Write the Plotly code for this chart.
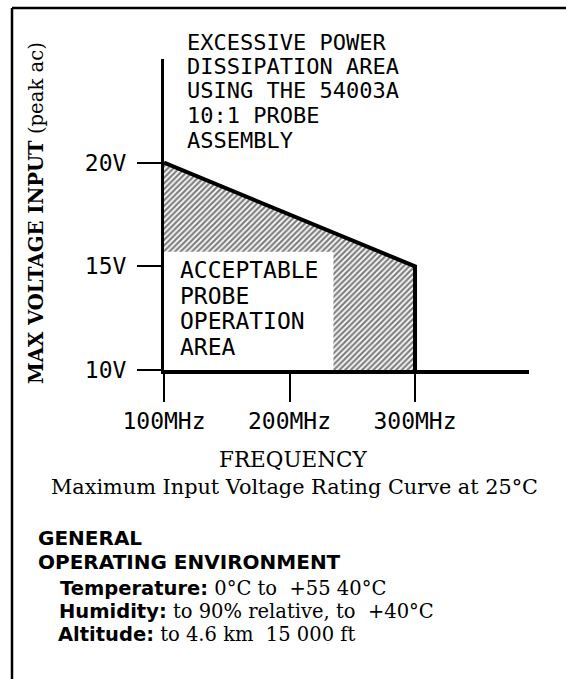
import plotly.graph_objects as go

# Maximum input voltage rating curve (frequency in MHz, voltage in V peak ac)
freq_mhz = [100, 300, 300]
max_volt = [20, 15, 10]

# Outline of the hatched excessive power dissipation area
hatch_freq = [100, 300, 300, 235, 235, 100]
hatch_volt = [20, 15, 10, 10, 15.7, 15.7]

x_ticks = [100, 200, 300]
x_tick_text = ["100MHz", "200MHz", "300MHz"]
y_ticks = [10, 15, 20]
y_tick_text = ["10V", "15V", "20V"]

upper_label = ["EXCESSIVE POWER", "DISSIPATION AREA", "USING THE 54003A",
               "10:1 PROBE", "ASSEMBLY"]
lower_label = ["ACCEPTABLE", "PROBE", "OPERATION", "AREA"]

env_heading = ["GENERAL", "OPERATING ENVIRONMENT"]
env_items = [
    ("Temperature:", "0°C to  +55 40°C"),
    ("Humidity:", "to 90% relative, to  +40°C"),
    ("Altitude:", "to 4.6 km  15 000 ft"),
]

# Page geometry (pixels) and plot-area edges
W, H = 566, 679
L, R, T, B = 164, 529, 59, 370

MONO = "DejaVu Sans Mono"
SERIF = "DejaVu Serif"
SANS = "DejaVu Sans"


def px(x):
    return (x - L) / (R - L)


def py(y):
    return (B - y) / (B - T)


fig = go.Figure()

fig.add_trace(go.Scatter(
    x=hatch_freq, y=hatch_volt, mode="lines", fill="toself",
    line=dict(width=0, color="rgba(0,0,0,0)"),
    fillcolor="white",
    fillpattern=dict(shape="/", fgcolor="black", bgcolor="white",
                     size=4, solidity=0.55),
    hoverinfo="skip", showlegend=False,
))

fig.add_trace(go.Scatter(
    x=freq_mhz, y=max_volt, mode="lines",
    line=dict(color="black", width=4),
    hoverinfo="skip", showlegend=False, cliponaxis=False,
))

annotations = []

for i, line in enumerate(upper_label):
    annotations.append(dict(
        text=line, xref="paper", yref="paper", x=px(185), y=py(42 + 24.5 * i),
        xanchor="left", yanchor="middle", showarrow=False,
        font=dict(family=MONO, size=22, color="black"),
    ))

for i, line in enumerate(lower_label):
    annotations.append(dict(
        text=line, xref="paper", yref="paper", x=px(178), y=py(270 + 25.6 * i),
        xanchor="left", yanchor="middle", showarrow=False,
        font=dict(family=MONO, size=23, color="black"),
    ))

# Axis titles
annotations.append(dict(
    text="<b>MAX VOLTAGE INPUT</b> (peak ac)", textangle=-90,
    xref="paper", yref="paper", x=px(36), y=py(213),
    xanchor="center", yanchor="middle", showarrow=False,
    font=dict(family=SERIF, size=19.6, color="black"),
))
annotations.append(dict(
    text="FREQUENCY", xref="paper", yref="paper", x=px(293), y=py(459),
    xanchor="center", yanchor="middle", showarrow=False,
    font=dict(family=SERIF, size=21.5, color="black"),
))
annotations.append(dict(
    text="Maximum Input Voltage Rating Curve at 25°C",
    xref="paper", yref="paper", x=px(294), y=py(487),
    xanchor="center", yanchor="middle", showarrow=False,
    font=dict(family=SERIF, size=20.8, color="black"),
))

# Operating environment notes
heading_y = [538, 562]
for line, yy in zip(env_heading, heading_y):
    annotations.append(dict(
        text="<b>%s</b>" % line, xref="paper", yref="paper",
        x=px(36), y=py(yy), xanchor="left", yanchor="middle",
        showarrow=False, font=dict(family=SANS, size=20, color="black"),
    ))

item_x = [58, 57, 56]
item_y = [588, 611, 634]
for (lab, val), xx, yy in zip(env_items, item_x, item_y):
    annotations.append(dict(
        text='<b><span style="font-family:DejaVu Sans">%s</span></b> %s' % (lab, val),
        xref="paper", yref="paper", x=px(xx), y=py(yy),
        xanchor="left", yanchor="middle", showarrow=False,
        font=dict(family=SERIF, size=19.5, color="black"),
    ))

# Page border (left and top edges)
shapes = [
    dict(type="line", xref="paper", yref="paper",
         x0=px(12), y0=py(H), x1=px(12), y1=py(8),
         line=dict(color="black", width=2.5)),
    dict(type="line", xref="paper", yref="paper",
         x0=px(12), y0=py(8), x1=px(W), y1=py(8),
         line=dict(color="black", width=2.5)),
]

fig.update_layout(
    width=W, height=H, autosize=False,
    margin=dict(l=L, r=W - R, t=T, b=H - B, pad=0),
    paper_bgcolor="white", plot_bgcolor="white",
    showlegend=False,
    annotations=annotations, shapes=shapes,
    xaxis=dict(
        range=[100, 390.8], showline=True, linewidth=3.5, linecolor="black",
        ticks="outside", ticklen=28, tickwidth=2, tickcolor="black",
        tickvals=x_ticks, ticktext=x_tick_text,
        tickfont=dict(family=MONO, size=23, color="black"),
        showgrid=False, zeroline=False, fixedrange=True,
    ),
    yaxis=dict(
        range=[10, 25], showline=True, linewidth=3, linecolor="black",
        ticks="outside", ticklen=24, tickwidth=2, tickcolor="black",
        tickvals=y_ticks, ticktext=y_tick_text, ticklabelstandoff=6,
        tickfont=dict(family=MONO, size=23, color="black"),
        showgrid=False, zeroline=False, fixedrange=True,
    ),
)

fig.write_html("out.html", config={"displayModeBar": False})
